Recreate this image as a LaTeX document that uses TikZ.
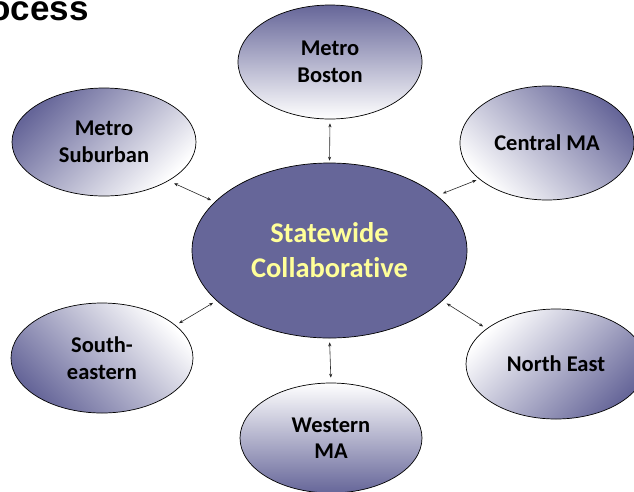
\documentclass[tikz,border=0pt]{standalone}
\usepackage{fontspec}
\setmainfont{Carlito}[Ligatures=NoCommon]
\newfontfamily\titlefont{Liberation Sans}
\usetikzlibrary{arrows.meta,shapes.geometric}
\definecolor{slate}{RGB}{102,102,153}
\definecolor{paleyellow}{RGB}{255,255,153}
\begin{document}
\begin{tikzpicture}[x=1pt,y=-1pt,
  region/.style={ellipse, draw=black, line width=0.7pt, inner sep=0pt,
    top color=slate, bottom color=white,
    font=\fontsize{22.5}{26.5}\selectfont\bfseries, align=center, text=black},
  hub/.style={ellipse, draw=black, line width=0.7pt, fill=slate, inner sep=0pt,
    minimum width=275pt, minimum height=175pt,
    font=\fontsize{28.5}{35}\selectfont\bfseries, text=paleyellow, align=center},
  link/.style={{Stealth[length=4pt,width=3.2pt]}-{Stealth[length=4pt,width=3.2pt]},
    line width=0.6pt, draw=black!85}
]
\useasboundingbox (0,0) rectangle (634,491);
\clip (0,0) rectangle (634,491);

% heading, running off the left edge
\node[anchor=base east, inner sep=0pt, font=\fontsize{35}{40}\titlefont\bfseries] (title) at (89,20) {ocess};

% hub
\node[hub] (C) at (329.5,250.5) {Statewide\\Collaborative};

% regions, each shaded dark on the side facing away from the hub
\node[region, minimum width=184pt, minimum height=114pt, shading angle=0]    (B) at (330,62)  {Metro\\Boston};
\node[region, minimum width=184pt, minimum height=108pt, shading angle=45]   (S) at (104,142) {Metro\\Suburban};
\node[region, minimum width=174pt, minimum height=114pt, shading angle=-45]  (M) at (547,143) {Central MA};
\node[region, minimum width=182pt, minimum height=110pt, shading angle=135]  (E) at (102,358) {South-\\eastern};
\node[region, minimum width=180pt, minimum height=110pt, shading angle=-135] (N) at (556,364) {North East};
\node[region, minimum width=182pt, minimum height=110pt, shading angle=180]  (W) at (331,438) {Western\\MA};

% two-way links to the hub
\draw[link, shorten <=4pt, shorten >=2pt] (B.-90) -- (C.90);
\draw[link, shorten <=6pt, shorten >=4pt] (S.-31) -- (C.157);
\draw[link, shorten <=3pt, shorten >=6pt] (M.208) -- (C.27);
\draw[link, shorten <=4pt, shorten >=4pt] (E.24)  -- (C.204);
\draw[link, shorten <=4pt, shorten >=5pt] (N.153) -- (C.-24);
\draw[link, shorten <=5pt, shorten >=4pt] (W.90)  -- (C.-90);
\end{tikzpicture}
\end{document}
